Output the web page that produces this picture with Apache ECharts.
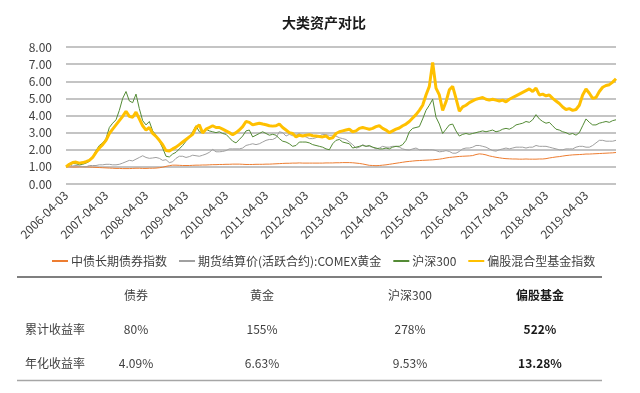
<!DOCTYPE html>
<html>
<head>
<meta charset="utf-8">
<script src="https://cdn.jsdelivr.net/npm/echarts@6/dist/echarts.min.js"></script>
<style>
html,body{margin:0;padding:0;background:#fff;}
#chart{width:640px;height:393px;}
</style>
</head>
<body>
<div id="chart"></div>
<script>
// ---- data (monthly readings, first point = 2006-04-03) ----
const startYear = 2006, startMonth = 4, pointCount = 166;
const seriesNames = ['中债长期债券指数', '期货结算价(活跃合约):COMEX黄金', '沪深300', '偏股混合型基金指数'];

const bond = [
1.00,1.00,0.99,0.99,1.00,1.00,1.00,0.99,0.98,0.97,
0.96,0.95,0.94,0.93,0.92,0.91,0.91,0.90,0.90,0.90,
0.91,0.92,0.92,0.91,0.91,0.92,0.92,0.93,0.95,0.98,
1.03,1.07,1.10,1.10,1.09,1.08,1.08,1.08,1.09,1.10,
1.10,1.11,1.11,1.12,1.13,1.13,1.14,1.14,1.15,1.15,
1.16,1.16,1.16,1.15,1.14,1.14,1.14,1.15,1.15,1.15,
1.16,1.16,1.17,1.18,1.19,1.20,1.21,1.21,1.22,1.22,
1.23,1.22,1.22,1.22,1.22,1.22,1.22,1.22,1.23,1.23,
1.23,1.24,1.24,1.25,1.25,1.25,1.24,1.22,1.20,1.17,
1.13,1.09,1.08,1.07,1.08,1.10,1.12,1.15,1.18,1.21,
1.24,1.27,1.30,1.32,1.34,1.36,1.37,1.38,1.39,1.40,
1.41,1.43,1.45,1.48,1.52,1.55,1.57,1.59,1.61,1.62,
1.63,1.64,1.66,1.72,1.76,1.74,1.70,1.64,1.60,1.56,
1.53,1.50,1.48,1.47,1.46,1.46,1.45,1.45,1.46,1.45,
1.45,1.45,1.46,1.46,1.48,1.52,1.55,1.58,1.60,1.63,
1.66,1.68,1.70,1.71,1.72,1.73,1.75,1.75,1.76,1.77,
1.78,1.79,1.80,1.81,1.82,1.84];

const gold = [
1.00,1.15,1.05,1.08,1.05,1.02,1.00,1.08,1.08,1.08,
1.12,1.12,1.15,1.15,1.12,1.12,1.15,1.22,1.30,1.38,
1.35,1.45,1.55,1.65,1.55,1.50,1.52,1.55,1.50,1.38,
1.42,1.25,1.30,1.50,1.62,1.62,1.55,1.60,1.68,1.65,
1.62,1.68,1.75,1.85,2.02,1.88,1.88,1.90,1.95,2.05,
2.05,2.05,2.05,2.10,2.25,2.30,2.35,2.30,2.35,2.45,
2.55,2.60,2.60,2.70,3.05,3.00,2.80,2.90,2.82,2.85,
2.95,2.80,2.75,2.65,2.65,2.70,2.80,2.90,2.88,2.85,
2.85,2.80,2.70,2.65,2.60,2.45,2.30,2.10,2.15,2.30,
2.20,2.20,2.15,2.05,2.10,2.20,2.15,2.15,2.20,2.20,
2.15,2.05,2.00,1.98,2.05,2.10,2.00,2.00,2.00,2.00,
2.00,1.95,1.88,1.90,1.95,1.90,1.80,1.80,1.90,2.05,
2.10,2.10,2.15,2.25,2.25,2.20,2.15,2.05,1.95,1.92,
2.00,2.05,2.10,2.05,2.10,2.15,2.15,2.15,2.10,2.15,
2.15,2.25,2.20,2.20,2.20,2.15,2.10,2.05,2.00,2.00,
2.05,2.05,2.05,2.15,2.20,2.20,2.15,2.15,2.25,2.40,
2.55,2.55,2.50,2.50,2.50,2.55];

const csi300 = [
1.00,1.10,1.20,1.18,1.12,1.15,1.22,1.32,1.58,1.95,
2.25,2.40,2.65,3.30,3.55,3.75,4.30,5.00,5.40,4.85,
4.75,5.25,4.40,3.70,3.45,3.65,3.10,2.85,2.50,2.10,
1.62,1.58,1.75,1.85,2.05,2.25,2.50,2.70,3.05,3.40,
3.05,3.00,3.20,3.10,3.05,3.00,3.05,2.95,2.90,2.70,
2.50,2.40,2.60,2.80,3.10,3.15,2.75,2.85,2.95,3.05,
2.95,2.85,2.90,2.85,2.65,2.50,2.45,2.35,2.20,2.25,
2.45,2.45,2.45,2.40,2.30,2.25,2.20,2.15,2.05,2.00,
2.35,2.55,2.60,2.45,2.40,2.35,2.10,2.15,2.20,2.25,
2.20,2.25,2.15,2.10,2.05,2.05,2.10,2.05,2.15,2.20,
2.20,2.30,2.55,3.05,3.25,3.30,3.35,3.80,4.30,4.60,
4.95,3.90,3.50,2.95,3.20,3.45,3.50,3.10,2.80,2.90,
2.95,2.90,2.95,3.00,3.05,3.10,3.05,3.10,3.15,3.05,
3.10,3.20,3.25,3.20,3.30,3.45,3.50,3.55,3.65,3.60,
3.75,4.05,3.80,3.65,3.55,3.60,3.40,3.20,3.15,3.05,
3.00,2.90,2.95,2.85,3.00,3.40,3.80,3.60,3.45,3.45,
3.55,3.60,3.65,3.60,3.70,3.75];

const fund = [
1.00,1.15,1.25,1.28,1.22,1.25,1.30,1.38,1.55,1.85,
2.10,2.30,2.55,2.95,3.20,3.45,3.70,3.95,4.25,3.95,
3.90,4.20,3.80,3.40,3.15,3.30,2.95,2.78,2.55,2.30,
1.95,1.92,2.05,2.15,2.30,2.45,2.60,2.75,2.90,3.30,
3.45,2.98,3.20,3.30,3.40,3.30,3.30,3.20,3.10,3.00,
2.88,3.00,3.15,3.35,3.65,3.60,3.45,3.50,3.55,3.50,
3.46,3.40,3.38,3.40,3.50,3.30,3.15,3.00,2.95,2.75,
2.85,2.80,2.85,2.88,2.82,2.80,2.78,2.75,2.80,2.65,
2.70,2.95,3.05,3.10,3.15,3.20,3.05,3.10,3.25,3.30,
3.25,3.20,3.25,3.35,3.40,3.25,3.15,3.00,3.10,3.20,
3.27,3.40,3.50,3.65,3.85,4.05,4.30,4.60,5.20,5.70,
7.10,5.60,5.20,4.30,4.80,5.50,5.70,5.00,4.25,4.50,
4.60,4.75,4.85,4.95,5.00,5.05,4.95,4.90,4.95,4.90,
4.85,4.90,4.80,4.95,5.05,5.15,5.25,5.35,5.45,5.55,
5.40,5.60,5.20,5.25,5.15,5.20,5.00,4.85,4.70,4.50,
4.35,4.40,4.30,4.35,4.60,5.20,5.55,5.30,5.00,5.05,
5.40,5.65,5.75,5.80,5.95,6.15];

// table
const tableHeaders = ['债券', '黄金', '沪深300', '偏股基金'];
const rowLabels = ['累计收益率', '年化收益率'];
const cumulativeReturn = ['80%', '155%', '278%', '522%'];
const annualReturn = ['4.09%', '6.63%', '9.53%', '13.28%'];

// ---- categories (axis dates, one per month) ----
const categories = [];
for (let i = 0; i < pointCount; i++) {
  const mi = startMonth - 1 + i;
  const y = startYear + Math.floor(mi / 12);
  const m = (mi % 12) + 1;
  categories.push(y + '-' + (m < 10 ? '0' + m : m) + '-03');
}

const FONT = '"Noto Sans CJK SC", "Noto Sans", sans-serif';
const chart = echarts.init(document.getElementById('chart'), null, {renderer: 'canvas'});

const colX = [136, 262, 410, 540];
const rowY = [295, 329, 363];
const graphics = [];
graphics.push({type: 'line', shape: {x1: 17, y1: 277, x2: 602, y2: 277}, style: {stroke: '#7f7f7f', lineWidth: 2}});
graphics.push({type: 'line', shape: {x1: 17, y1: 380.5, x2: 602, y2: 380.5}, style: {stroke: '#a6a6a6', lineWidth: 1.5}});
tableHeaders.forEach((h, i) => {
  graphics.push({type: 'text', x: colX[i], y: rowY[0], style: {text: h, font: (i === 3 ? 'bold ' : '') + '12px ' + FONT, fill: i === 3 ? '#1a1a1a' : '#404040', align: 'center', verticalAlign: 'middle'}});
});
rowLabels.forEach((r, j) => {
  graphics.push({type: 'text', x: 25, y: rowY[j + 1], style: {text: r, font: '12px ' + FONT, fill: '#404040', align: 'left', verticalAlign: 'middle'}});
});
[cumulativeReturn, annualReturn].forEach((row, j) => {
  row.forEach((v, i) => {
    graphics.push({type: 'text', x: colX[i], y: rowY[j + 1], style: {text: v, font: (i === 3 ? 'bold ' : '') + '12px ' + FONT, fill: i === 3 ? '#1a1a1a' : '#404040', align: 'center', verticalAlign: 'middle'}});
  });
});

const colors = ['#ED7D31', '#A0A0A0', '#548B36', '#FFC000'];
const widths = [1, 1, 1, 3];
const dataSets = [bond, gold, csi300, fund];

chart.setOption({
  animation: false,
  backgroundColor: '#fff',
  title: {
    text: '大类资产对比',
    left: 282,
    top: 16,
    padding: 0,
    textStyle: {fontFamily: FONT, fontSize: 14, fontWeight: 'bold', color: '#1a1a1a'}
  },
  legend: {
    data: seriesNames,
    left: 52,
    top: 255,
    padding: 0,
    itemGap: 12,
    itemWidth: 16,
    itemHeight: 2,
    icon: 'rect',
    textStyle: {fontFamily: FONT, fontSize: 12, color: '#404040', padding: [0, 0, 0, -2]}
  },
  grid: {left: 66, right: 24, top: 47, bottom: 209, containLabel: false},
  xAxis: {
    type: 'category',
    data: categories,
    boundaryGap: false,
    axisLine: {show: false},
    axisTick: {show: false},
    axisLabel: {interval: 11, rotate: 45, margin: 9, fontFamily: FONT, fontSize: 12, color: '#404040'},
    splitLine: {show: false}
  },
  yAxis: {
    type: 'value',
    min: 0, max: 8, interval: 1,
    axisLine: {show: false},
    axisTick: {show: false},
    axisLabel: {margin: 14, fontFamily: FONT, fontSize: 12, color: '#404040', formatter: v => v.toFixed(2)},
    splitLine: {lineStyle: {color: '#b0b0b0', width: 1.5}}
  },
  series: dataSets.map((d, i) => ({
    name: seriesNames[i],
    type: 'line',
    data: d,
    showSymbol: false,
    symbol: 'none',
    color: colors[i],
    lineStyle: {color: colors[i], width: widths[i]},
    z: 2 + i
  })),
  graphic: graphics
});
</script>
</body>
</html>
